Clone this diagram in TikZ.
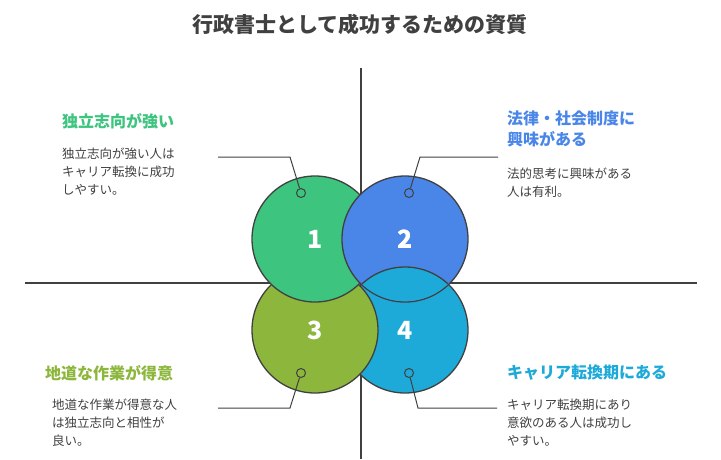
\documentclass[tikz,border=0pt]{standalone}
\usepackage{fontspec}
\setmainfont{Noto Sans CJK JP}
\definecolor{cgreen}{HTML}{3DC47E}
\definecolor{cblue}{HTML}{4A86E8}
\definecolor{colive}{HTML}{8DB63C}
\definecolor{ccyan}{HTML}{1EAAD9}
\definecolor{cline}{HTML}{404040}
\tikzset{
  petal/.style={circle, draw=cline, line width=1.3pt, minimum size=126pt, inner sep=0pt,
    font=\bfseries\fontsize{25}{25}\selectfont, text=white},
  dot/.style={circle, draw=cline, line width=1pt, fill=none, minimum size=9pt, inner sep=0pt},
  head/.style={font=\bfseries\fontsize{16}{21}\selectfont, inner sep=0pt, align=left},
  body/.style={font=\fontsize{12.5}{18}\selectfont, text=cline, inner sep=0pt, align=left},
  leader/.style={draw=cline, line width=1pt}
}
\begin{document}
\begin{tikzpicture}[x=1pt,y=1pt]
\useasboundingbox (0,0) rectangle (721,-459);
\node[font=\bfseries\fontsize{21}{21}\selectfont, text=cline] (title) at (360,-24) {行政書士として成功するための資質};

% axes
\draw[cline, line width=1.2pt] (361,-68) -- (361,-459);
\draw[cline, line width=1.2pt] (25,-283) -- (697,-283);

% circles
\node[petal, fill=ccyan] (c4) at (405,-330) {4};
\node[petal, fill=colive] (c3) at (315,-330) {3};
\node[petal, fill=cgreen] (c1) at (315,-239) {1};
\node[petal, fill=cblue] (c2) at (405,-239) {2};
\begin{scope}
  \clip (c2.center) circle (62.2);
  \node[petal, fill=ccyan] at (c4) {};
\end{scope}
\node[font=\bfseries\fontsize{25}{25}\selectfont, text=white] at (c2) {2};

% dots and leaders
\node[dot] (d1) at (301,-193) {};
\node[dot] (d2) at (409,-193) {};
\node[dot] (d3) at (301,-373) {};
\node[dot] (d4) at (409,-373) {};
\coordinate (k1) at (290,-157); \coordinate (e1) at (218,-157);
\coordinate (k2) at (420,-157); \coordinate (e2) at (498,-157);
\coordinate (k3) at (290,-408); \coordinate (e3) at (218,-408);
\coordinate (k4) at (418,-408); \coordinate (e4) at (497,-408);
\draw[leader] (d1) -- (k1) -- (e1);
\draw[leader] (d2) -- (k2) -- (e2);
\draw[leader] (d3) -- (k3) -- (e3);
\draw[leader] (d4) -- (k4) -- (e4);

% texts
\node[head, text=cgreen, anchor=west] (h1) at (62,-121) {独立志向が強い};
\node[body, anchor=north west] (b1) at (62,-148) {独立志向が強い人は\\キャリア転換に成功\\しやすい。};
\node[head, text=cblue, anchor=north west] (h2) at (507,-111) {法律・社会制度に\\興味がある};
\node[body, anchor=north west] (b2) at (507,-168) {法的思考に興味がある\\人は有利。};
\node[head, text=colive, anchor=west] (h3) at (45,-373) {地道な作業が得意};
\node[body, anchor=north west] (b3) at (52,-399) {地道な作業が得意な人\\は独立志向と相性が\\良い。};
\node[head, text=ccyan, anchor=west] (h4) at (507,-373) {キャリア転換期にある};
\node[body, anchor=north west] (b4) at (507,-399) {キャリア転換期にあり\\意欲のある人は成功し\\やすい。};
\end{tikzpicture}
\end{document}
